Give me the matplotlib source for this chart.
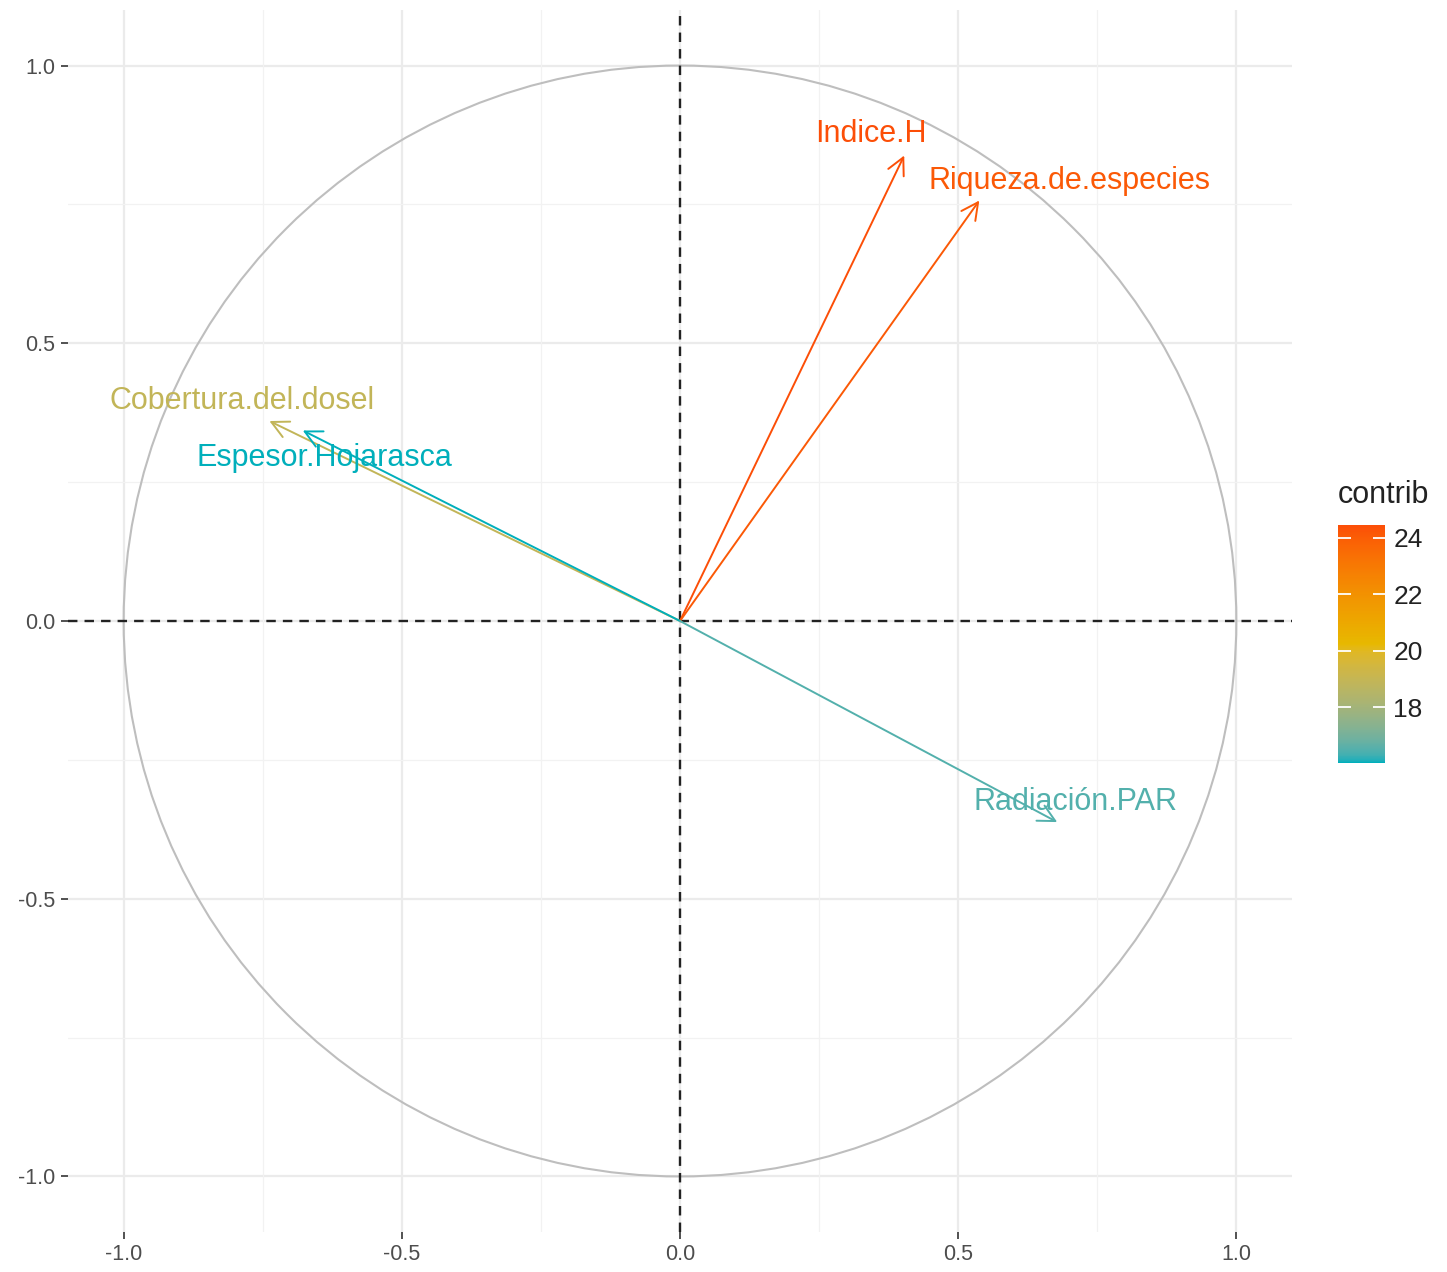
import numpy as np
import matplotlib
matplotlib.use('Agg')
import matplotlib.pyplot as plt
from matplotlib.colors import ListedColormap, Normalize, to_rgb
from matplotlib.patches import FancyArrowPatch, Circle
from matplotlib.cm import ScalarMappable

plt.rcParams['font.family'] = ['Liberation Sans', 'DejaVu Sans']

# variable coordinates on Dim1 / Dim2 and their contribution
variables = ['Indice.H', 'Riqueza.de.especies', 'Cobertura.del.dosel',
             'Espesor.Hojarasca', 'Radiación.PAR']
dim1 = [0.403, 0.538, -0.738, -0.678, 0.678]
dim2 = [0.838, 0.757, 0.360, 0.343, -0.362]
contrib = [24.46, 24.10, 18.90, 16.02, 16.50]

# where each label sits relative to its arrow tip (pixels)
label_offsets = [(-33, 22), (90, 20), (-27, 20), (22, -28), (18, 20)]

gradient_cols = ['#00AFBB', '#E7B800', '#FC4E07']

WHITE = np.array([0.95047, 1.0, 1.08883])
M = np.array([[0.4124, 0.3576, 0.1805],
              [0.2126, 0.7152, 0.0722],
              [0.0193, 0.1192, 0.9505]])


def rgb_to_lab(rgb):
    c = np.asarray(rgb, float)
    c = np.where(c > 0.04045, ((c + 0.055) / 1.055) ** 2.4, c / 12.92)
    xyz = M @ c / WHITE
    f = np.where(xyz > 0.008856, np.cbrt(xyz), 7.787 * xyz + 16 / 116)
    return np.array([116 * f[1] - 16, 500 * (f[0] - f[1]), 200 * (f[1] - f[2])])


def lab_to_rgb(lab):
    L, a, b = lab
    fy = (L + 16) / 116
    f = np.array([fy + a / 500, fy, fy - b / 200])
    xyz = np.where(f ** 3 > 0.008856, f ** 3, (f - 16 / 116) / 7.787) * WHITE
    c = np.linalg.solve(M, xyz)
    c = np.where(c > 0.0031308, 1.055 * np.clip(c, 0, None) ** (1 / 2.4) - 0.055, 12.92 * c)
    return np.clip(c, 0, 1)


def lab_gradient(cols, n=256):
    labs = [rgb_to_lab(to_rgb(c)) for c in cols]
    pos = np.linspace(0, 1, len(cols))
    out = []
    for t in np.linspace(0, 1, n):
        lab = [np.interp(t, pos, [l[k] for l in labs]) for k in range(3)]
        out.append(lab_to_rgb(lab))
    return ListedColormap(out)


gradient = lab_gradient(gradient_cols)
norm = Normalize(vmin=min(contrib), vmax=max(contrib))

W, H = 1447, 1272
fig = plt.figure(figsize=(W / 100, H / 100), dpi=100)
ax = fig.add_axes([68 / W, 40 / H, (1292 - 68) / W, (1232 - 10) / H])
ax.set_xlim(-1.1, 1.1)
ax.set_ylim(-1.1, 1.1)

for s in ax.spines.values():
    s.set_visible(False)

# grid like theme_minimal
major = [-1.0, -0.5, 0.0, 0.5, 1.0]
minor = [-0.75, -0.25, 0.25, 0.75]
for v in major:
    ax.axvline(v, color='#EBEBEB', lw=1.6, zorder=0)
    ax.axhline(v, color='#EBEBEB', lw=1.6, zorder=0)
for v in minor:
    ax.axvline(v, color='#F2F2F2', lw=0.9, zorder=0)
    ax.axhline(v, color='#F2F2F2', lw=0.9, zorder=0)

tick_labels = ['-1.0', '-0.5', '0.0', '0.5', '1.0']
ax.set_xticks(major)
ax.set_yticks(major)
ax.set_xticklabels(tick_labels)
ax.set_yticklabels(tick_labels)
ax.tick_params(axis='both', length=5, width=1.2, color='#333333',
               labelsize=15.5, labelcolor='#4D4D4D', pad=4)

# correlation circle
ax.add_patch(Circle((0, 0), 1.0, fill=False, ec='#BEBEBE', lw=1.5, zorder=1))

ax.axhline(0, color='#222222', lw=1.7, ls=(0, (4, 3)), zorder=2)
ax.axvline(0, color='#222222', lw=1.7, ls=(0, (4, 3)), zorder=2)

for name, x, y, c, off in zip(variables, dim1, dim2, contrib, label_offsets):
    col = gradient(norm(c))
    arr = FancyArrowPatch((0, 0), (x, y), arrowstyle='->,head_length=0.55,head_width=0.28',
                          mutation_scale=22, color=col, lw=1.4,
                          shrinkA=0, shrinkB=0, zorder=3)
    ax.add_patch(arr)
    ax.annotate(name, (x, y), xytext=off, textcoords='offset pixels',
                ha='center', va='center', fontsize=22, color=col, zorder=4)

# colour bar
cax = fig.add_axes([1338 / W, (H - 763) / H, 47 / W, 238 / H])
cb = fig.colorbar(ScalarMappable(norm=norm, cmap=gradient), cax=cax)
cb.outline.set_visible(False)
cb.set_ticks([18, 20, 22, 24])
cax.tick_params(axis='y', direction='in', color='white', length=9, width=1.3,
                left=True, right=True, labelleft=False, labelright=True,
                labelsize=19, labelcolor='#222222', pad=6)
fig.text(1338 / W, 1 - 495 / H, 'contrib', ha='left', va='center',
         fontsize=22, color='#222222')

fig.savefig('out.png', dpi=100, facecolor='white')
